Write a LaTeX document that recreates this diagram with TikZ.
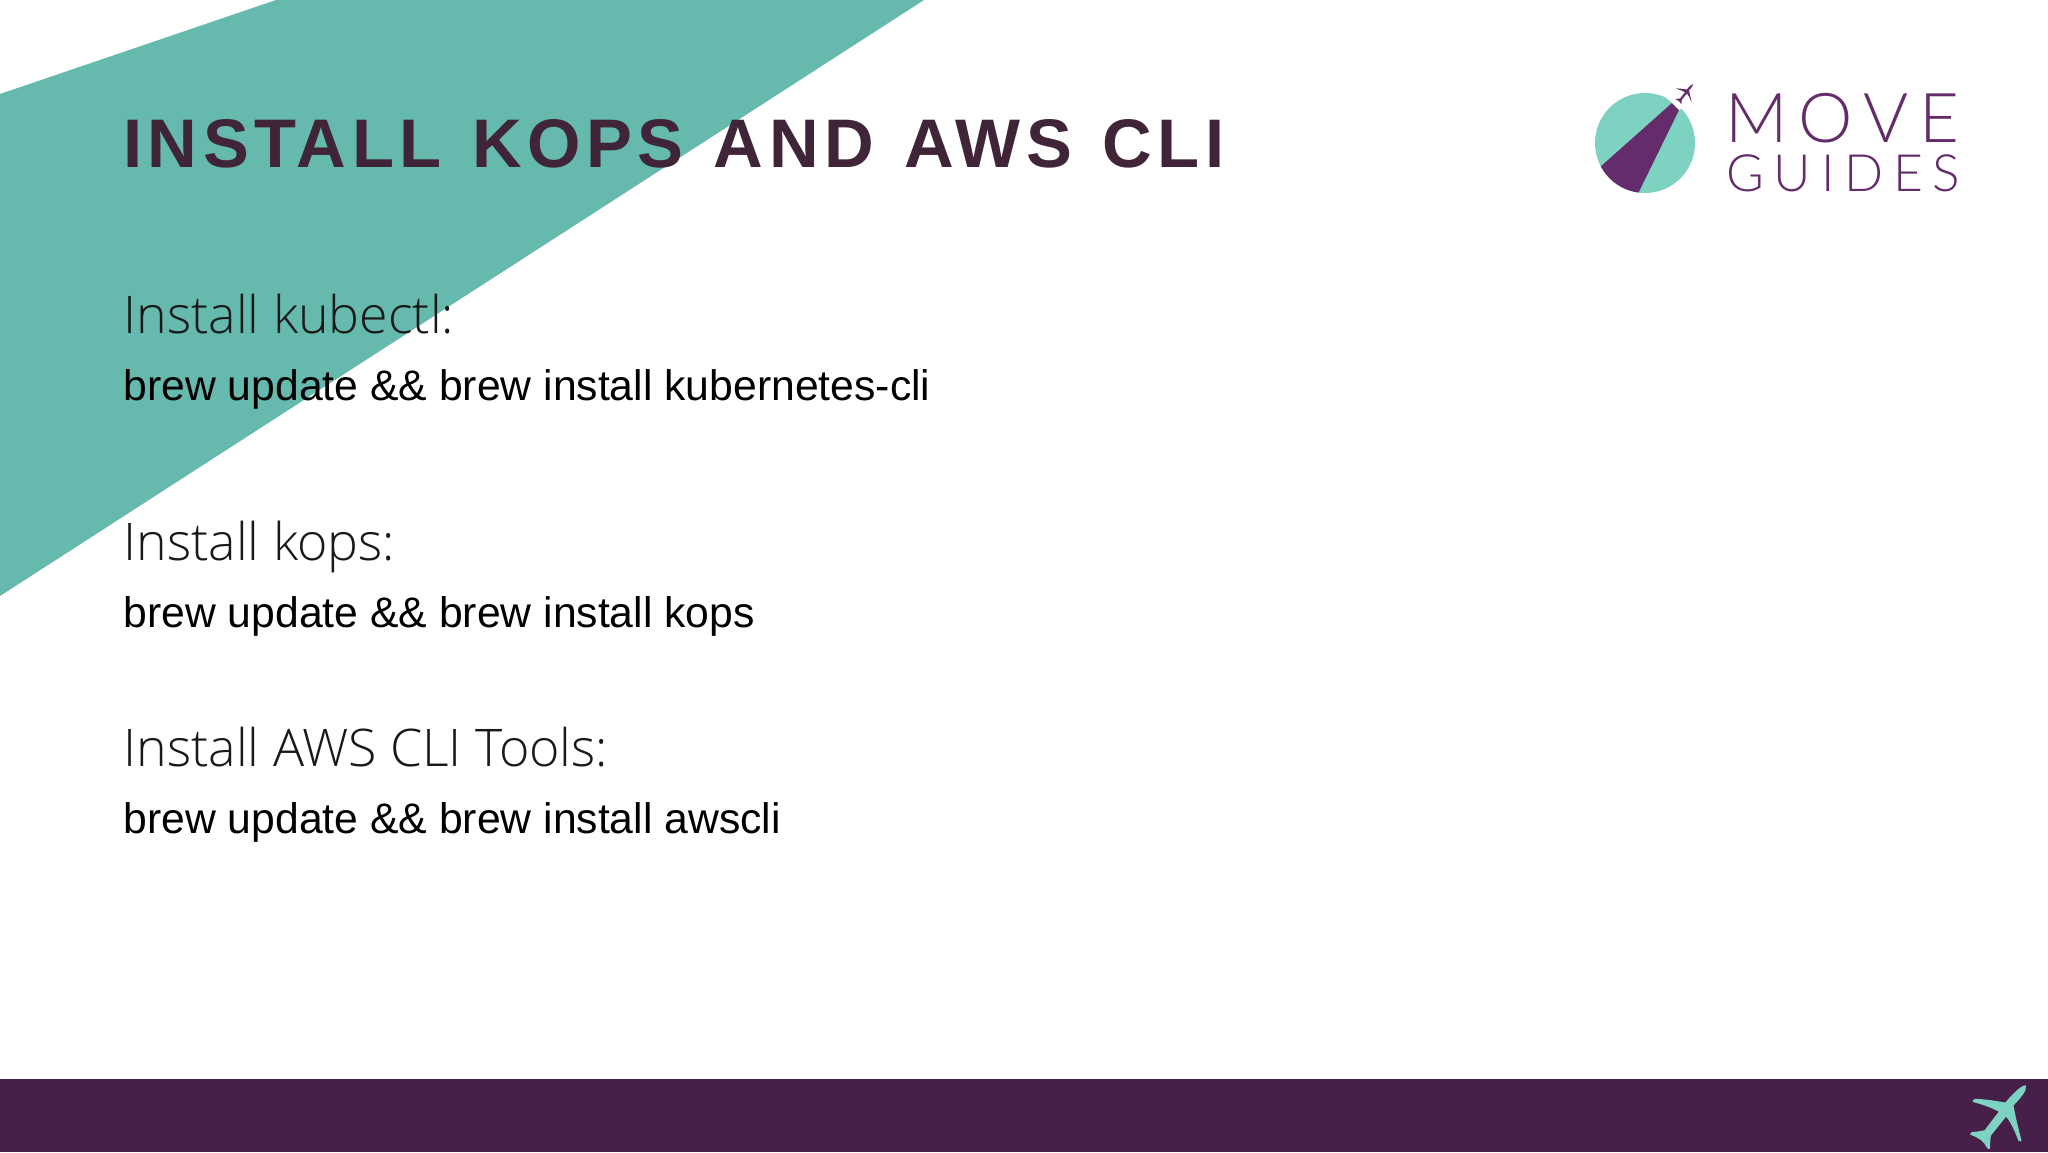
\documentclass[tikz,border=0pt]{standalone}
\usepackage{fontspec}
\setmainfont{Liberation Sans}
\newfontfamily\titlefont[LetterSpace=8,WordSpace=1.24]{Liberation Sans}
\newfontfamily\bodyfont{Open Sans Light}
\newfontfamily\logofont{Lato Light}
\definecolor{TealClr}{HTML}{65B9AD}
\definecolor{TitleClr}{HTML}{3F2537}
\definecolor{BarClr}{HTML}{462049}
\definecolor{LogoClr}{HTML}{642C6B}
\definecolor{MintClr}{HTML}{7DD2C2}
\tikzset{
  px/.style={x=0.48pt,y=-0.48pt},
  headtext/.style={anchor=base west,inner sep=0pt,font=\bodyfont\fontsize{24.9}{24.9}\selectfont,text=black!90},
  cmdtext/.style={anchor=base west,inner sep=0pt,font=\fontsize{20.5}{20.5}\selectfont,text=black},
  logotext/.style={anchor=base west,inner sep=0pt,text=LogoClr},
  planeicon/.pic={
    \path[pic actions] (0,0) .. controls (3,10) and (-8,28) .. (-37,57)
      .. controls (-33,85) and (-22,130) .. (-13,164) -- (-18,162)
      .. controls (-30,130) and (-42,105) .. (-57,88)
      -- (-105,148) .. controls (-107,165) and (-107,178) .. (-108,187)
      -- (-113,183) .. controls (-120,165) and (-135,155) .. (-162,144)
      -- (-158,140) .. controls (-145,140) and (-135,138) .. (-120,135)
      -- (-75,76) .. controls (-105,60) and (-130,52) .. (-155,46)
      -- (-150,41) .. controls (-115,42) and (-85,48) .. (-58,52)
      .. controls (-35,25) and (-15,5) .. (0,0) -- cycle;
  },
}
\begin{document}
\begin{tikzpicture}[px]
\useasboundingbox (0,0) rectangle (2048,1152);
\fill[white] (0,0) rectangle (2048,1152);
\fill[TealClr] (0,94) -- (276,0) -- (924,0) -- (0,596) -- cycle;
\fill[BarClr] (0,1079) rectangle (2048,1152);
\pic[fill=MintClr,draw=MintClr,line width=0.8pt,line join=round,scale=1/3] (barplane) at (2025,1086) {planeicon};
% title
\node[anchor=base west,inner sep=0pt,text=TitleClr,font=\titlefont\bfseries\fontsize{33}{33}\selectfont] (title) at (123,167) {INSTALL KOPS AND AWS CLI};
% body
\node[headtext] (kubectlhead) at (123,333) {Install kubectl:};
\node[cmdtext] (kubectlcmd) at (123,400) {brew update \&\& brew install kubernetes-cli};
\node[headtext] (kopshead) at (123,560) {Install kops:};
\node[cmdtext] (kopscmd) at (123,627) {brew update \&\& brew install kops};
\node[headtext] (awshead) at (123,766) {Install AWS CLI Tools:};
\node[cmdtext] (awscmd) at (123,833) {brew update \&\& brew install awscli};
% logo
\fill[MintClr] (1645,143) circle (50);
\begin{scope}
\clip (1645,143) circle (50);
\fill[LogoClr] (1672,103) -- (1679,110) -- (1629,212) -- (1581,184) -- cycle;
\end{scope}
\fill[white] (1672,103) -- (1679,110) -- (1700,100) -- (1680,85) -- (1660,92) -- cycle;
\pic[fill=LogoClr,scale=0.107] (logoplane) at (1693,84) {planeicon};
\node[logotext,font=\logofont\fontsize{33}{33}\selectfont] (logomove) at (1725,142) {\addfontfeature{LetterSpace=16}MOVE};
\node[logotext,font=\logofont\fontsize{24.7}{24.7}\selectfont] (logoguides) at (1726,191) {\addfontfeature{LetterSpace=19}GUIDES};
\end{tikzpicture}
\end{document}
